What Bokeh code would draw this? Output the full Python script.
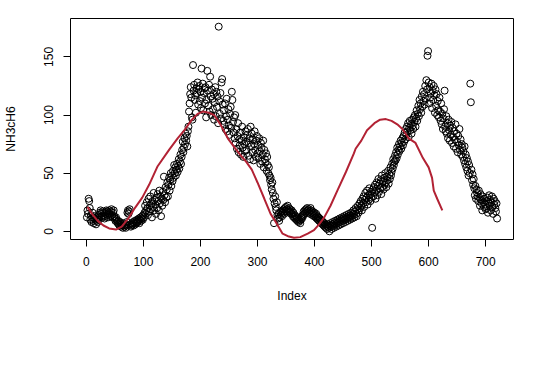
from bokeh.plotting import figure
from bokeh.models import Range1d, FixedTicker
from bokeh.embed import file_html
from bokeh.resources import INLINE

nh3_rows = [
    [12, 18, 15, 28, 26, 20, 10, 14, 8, 12, 16, 9, 7, 11, 13, 10, 6, 9, 12, 8],
    [10, 14, 12, 16, 18, 15, 13, 17, 12, 14, 16, 11, 13, 15, 18, 17, 14, 12, 16, 18],
    [15, 13, 17, 19, 14, 12, 16, 18, 13, 11, 9, 12, 10, 8, 7, 9, 6, 5, 8, 7],
    [4, 6, 5, 3, 7, 5, 4, 6, 3, 5, 8, 16, 18, 15, 17, 19, 6, 4, 5, 7],
    [6, 8, 5, 7, 9, 6, 8, 7, 10, 8, 9, 11, 7, 10, 12, 9, 11, 13, 10, 14],
    [12, 16, 22, 15, 18, 25, 20, 14, 28, 17, 22, 30, 19, 24, 12, 26, 21, 33, 18, 27],
    [23, 15, 29, 20, 32, 26, 18, 35, 24, 30, 13, 28, 22, 34, 27, 47, 31, 25, 38, 29],
    [36, 42, 30, 40, 46, 35, 44, 50, 39, 48, 43, 52, 46, 57, 50, 55, 48, 53, 58, 51],
    [56, 62, 54, 60, 66, 58, 64, 70, 77, 68, 72, 80, 75, 84, 78, 82, 73, 86, 90, 103],
    [110, 118, 124, 115, 98, 96, 143, 121, 126, 113, 117, 102, 123, 119, 128, 109, 122, 125, 112, 120],
    [106, 140, 115, 127, 104, 119, 123, 110, 124, 98, 113, 138, 121, 108, 126, 103, 133, 116, 100, 122],
    [114, 105, 118, 96, 111, 124, 99, 120, 107, 116, 93, 176, 112, 101, 119, 97, 128, 131, 109, 95],
    [104, 92, 110, 88, 99, 114, 86, 96, 105, 91, 83, 101, 107, 89, 120, 113, 94, 85, 98, 80],
    [100, 76, 88, 71, 82, 93, 68, 79, 74, 85, 66, 78, 90, 72, 64, 81, 75, 69, 86, 77],
    [70, 83, 88, 65, 76, 80, 62, 90, 73, 84, 68, 79, 61, 75, 86, 70, 64, 78, 82, 67],
    [74, 63, 80, 69, 58, 76, 72, 60, 66, 78, 55, 70, 62, 59, 67, 52, 64, 57, 50, 55],
    [48, 44, 46, 40, 36, 42, 33, 28, 7, 24, 30, 21, 18, 25, 14, 11, 15, 9, 12, 16],
    [14, 17, 13, 18, 16, 19, 15, 20, 18, 21, 17, 19, 22, 18, 20, 16, 19, 17, 15, 18],
    [15, 13, 16, 12, 14, 11, 13, 10, 12, 9, 11, 8, 10, 9, 7, 10, 12, 11, 14, 13],
    [17, 15, 18, 16, 19, 17, 20, 18, 16, 19, 17, 15, 20, 18, 16, 14, 17, 15, 13, 16],
    [14, 12, 15, 11, 13, 10, 12, 9, 11, 8, 10, 7, 9, 6, 8, 5, 7, 4, 6, 3],
    [5, 2, 6, 4, 3, 0, 5, 7, 4, 2, 6, 8, 5, 3, 7, 9, 6, 4, 8, 10],
    [7, 5, 9, 11, 8, 6, 10, 12, 9, 7, 11, 13, 10, 8, 12, 14, 11, 9, 13, 15],
    [12, 10, 14, 16, 13, 11, 15, 18, 14, 12, 17, 20, 15, 13, 19, 22, 16, 18, 24, 20],
    [26, 22, 18, 28, 24, 30, 21, 27, 33, 25, 29, 35, 23, 31, 27, 37, 32, 26, 34, 29],
    [3, 36, 30, 38, 33, 40, 28, 35, 42, 31, 39, 45, 34, 41, 37, 44, 32, 48, 38, 43],
    [36, 46, 40, 50, 42, 38, 47, 44, 52, 41, 49, 45, 55, 48, 51, 58, 54, 62, 57, 60],
    [65, 61, 68, 63, 72, 66, 70, 75, 69, 73, 78, 71, 76, 80, 74, 82, 77, 85, 79, 88],
    [83, 90, 86, 93, 81, 89, 95, 87, 92, 84, 96, 91, 88, 98, 94, 100, 90, 97, 104, 95],
    [101, 108, 99, 113, 105, 110, 102, 116, 107, 120, 112, 118, 109, 125, 114, 130, 122, 151, 155, 128],
    [110, 124, 115, 119, 127, 106, 121, 113, 125, 117, 102, 122, 108, 118, 100, 112, 104, 98, 115, 103],
    [95, 110, 92, 101, 88, 97, 105, 121, 90, 86, 99, 84, 93, 80, 96, 87, 78, 91, 83, 94],
    [76, 89, 81, 73, 86, 79, 92, 71, 84, 77, 68, 82, 74, 88, 70, 79, 66, 75, 72, 64],
    [69, 61, 73, 58, 66, 55, 63, 52, 60, 48, 57, 50, 127, 111, 53, 44, 49, 40, 45, 37],
    [31, 39, 28, 36, 33, 30, 26, 35, 29, 22, 32, 27, 24, 18, 30, 25, 21, 28, 23, 19],
    [26, 20, 29, 16, 24, 31, 22, 27, 18, 25, 30, 21, 15, 28, 23, 26, 20, 17, 24, 11],
]
nh3 = [v for row in nh3_rows for v in row]
index = list(range(1, len(nh3) + 1))

# Red fitted curve (index, value)
fit_x = [2, 10, 20, 30, 40, 52, 62, 75, 85, 98, 110, 125, 145, 160, 172, 185, 195,
         204, 215, 224, 235, 248, 260, 271, 280, 290, 300, 312, 323, 332, 344, 355,
         364, 375, 388, 399, 408, 417, 428, 440, 455, 469, 472, 482, 492, 505, 515,
         525, 535, 545, 554, 565, 577, 590, 600, 606, 609, 615, 624]
fit_y = [21, 15, 9, 5, 2.5, 1.5, 4, 12, 20, 29, 40, 56, 70, 80, 87, 96, 101,
         103, 102, 100, 92, 80, 72, 65, 60, 53, 42, 28, 15, 8, -2, -4.5,
         -5.5, -5, -2, 1, 6, 12, 22, 35, 51, 67, 71, 78, 87, 93, 96,
         96.5, 95, 92, 88, 80, 76, 63, 55, 46, 35, 28, 18]

x_ticks = [0, 100, 200, 300, 400, 500, 600, 700]
y_ticks = [0, 50, 100, 150]

xmin, xmax = min(index), max(index)
ymin, ymax = min(nh3), max(nh3)
xpad = 0.04 * (xmax - xmin)
ypad = 0.04 * (ymax - ymin)

FONT = "Liberation Sans"

p = figure(width=524, height=354, output_backend="svg", toolbar_location=None,
           x_range=Range1d(xmin - xpad, xmax + xpad),
           y_range=Range1d(ymin - ypad, ymax + ypad),
           min_border_left=69, min_border_right=11,
           min_border_top=18, min_border_bottom=115,
           background_fill_color="white", border_fill_color="white")

p.grid.visible = False
p.outline_line_color = "black"
p.outline_line_width = 1

p.scatter(index, nh3, marker="circle", size=7, fill_color=None,
          line_color="black", line_width=1)
p.line(fit_x, fit_y, line_color="#B22234", line_width=2)

for ax in (p.xaxis[0], p.yaxis[0]):
    ax.axis_line_color = None
    ax.minor_tick_line_color = None
    ax.major_tick_in = 0
    ax.major_tick_out = 7
    ax.major_tick_line_color = "black"
    ax.major_label_text_font = FONT
    ax.major_label_text_font_size = "12px"
    ax.major_label_text_color = "black"
    ax.axis_label_text_font = FONT
    ax.axis_label_text_font_size = "12px"
    ax.axis_label_text_font_style = "normal"
    ax.axis_label_text_color = "black"
    ax.major_label_standoff = 10

p.xaxis.ticker = FixedTicker(ticks=x_ticks)
p.yaxis.ticker = FixedTicker(ticks=y_ticks)
p.yaxis.major_label_orientation = "vertical"
p.xaxis.axis_label = "Index"
p.yaxis.axis_label = "NH3cH6"
p.xaxis.axis_label_standoff = 20
p.yaxis.axis_label_standoff = 24

open("out.html", "w").write(file_html(p, INLINE))
